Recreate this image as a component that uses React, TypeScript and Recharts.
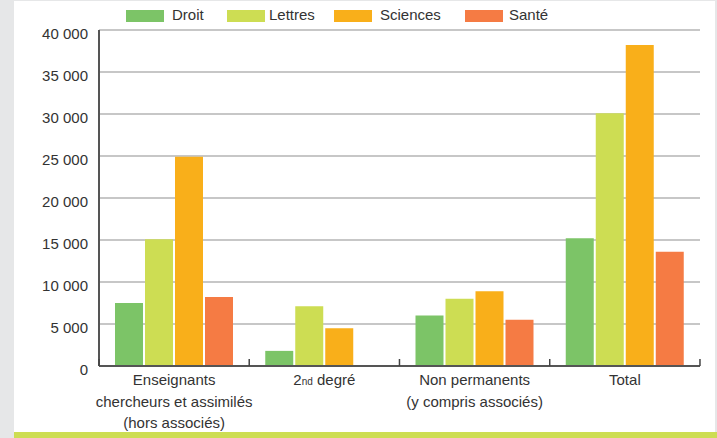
import { Bar, BarChart, CartesianGrid, XAxis, YAxis } from "recharts";

const categories = ["Enseignants chercheurs et assimilés (hors associés)", "2nd degré", "Non permanents (y compris associés)", "Total"];
const categoryLines = [
  ["Enseignants", "chercheurs et assimilés", "(hors associés)"],
  ["2nd degré"],
  ["Non permanents", "(y compris associés)"],
  ["Total"],
];
const droit = [7500, 1800, 6000, 15200];
const lettres = [15100, 7100, 8000, 30100];
const sciences = [24900, 4500, 8900, 38200];
const sante = [8200, null, 5500, 13600];
const yTicks = [0, 5000, 10000, 15000, 20000, 25000, 30000, 35000, 40000];

const series = [
  { key: "droit", name: "Droit", color: "#7cc467" },
  { key: "lettres", name: "Lettres", color: "#cddd53" },
  { key: "sciences", name: "Sciences", color: "#f9af1a" },
  { key: "sante", name: "Santé", color: "#f57b44" },
];

const data = categories.map((c, i) => ({
  name: c,
  lines: categoryLines[i],
  droit: droit[i],
  lettres: lettres[i],
  sciences: sciences[i],
  sante: sante[i],
}));

const FONT = "'Liberation Sans', Arial, sans-serif";

function fmt(v: number) {
  if (v === 0) return "0";
  return `${Math.floor(v / 1000)} 000`;
}

function YTick({ x, y, payload }: any) {
  return (
    <text x={x} y={y} dy={9} textAnchor="end" fill="#333" fontSize={15} fontFamily={FONT}>
      {fmt(payload.value)}
    </text>
  );
}

function XTick({ x, y, payload, index }: any) {
  const lines: string[] = categoryLines[index] || [payload.value];
  const half = 75.1;
  return (
    <g>
      {index === 0 && <line x1={x - half} x2={x - half} y1={y} y2={y - 7} stroke="#444" strokeWidth={1.5} />}
      <line x1={x + half} x2={x + half} y1={y} y2={y - 7} stroke="#444" strokeWidth={1.5} />
      {lines.map((l, i) => (
        <text key={i} x={x} y={y + 19 + i * 21.5} textAnchor="middle" fill="#333" fontSize={15} fontFamily={FONT}>
          {l === "2nd degré" ? (
            <>
              2<tspan fontSize={10}>nd</tspan> degré
            </>
          ) : (
            l
          )}
        </text>
      ))}
    </g>
  );
}

const legendPos = [
  { sw: 126, tx: 172 },
  { sw: 227, tx: 269 },
  { sw: 334, tx: 380 },
  { sw: 465, tx: 509 },
];

export default function App() {
  return (
    <div style={{ position: "absolute", left: 0, top: 0, width: 717, height: 438, background: "#fff", overflow: "hidden" }}>
      <BarChart
        width={717}
        height={438}
        data={data}
        margin={{ top: 30, right: 17, left: 14, bottom: 6 }}
        barCategoryGap={16}
        barGap={2}
      >
        <CartesianGrid vertical={false} stroke="#b5b5b5" strokeWidth={1.5} />
        <XAxis
          dataKey="name"
          interval={0}
          height={66}
          tickLine={false}
          tickSize={0}
          tickMargin={0}
          axisLine={{ stroke: "#555", strokeWidth: 2 }}
          tick={<XTick />}
        />
        <YAxis
          width={85}
          domain={[0, 40000]}
          ticks={yTicks}
          tickLine={false}
          tickSize={6}
          tickMargin={5}
          axisLine={{ stroke: "#555", strokeWidth: 2 }}
          tick={<YTick />}
        />
        {series.map((s) => (
          <Bar key={s.key} dataKey={s.key} name={s.name} fill={s.color} isAnimationActive={false} />
        ))}
      </BarChart>
      {series.map((s, i) => (
        <div key={s.key}>
          <div style={{ position: "absolute", left: legendPos[i].sw, top: 10, width: 38, height: 12, background: s.color }} />
          <div
            style={{ position: "absolute", left: legendPos[i].tx, top: 6, fontFamily: FONT, fontSize: 15, color: "#333", lineHeight: "18px" }}
          >
            {s.name}
          </div>
        </div>
      ))}
      <div style={{ position: "absolute", left: 0, top: 0, width: 14, height: 438, background: "#e6e7e8" }} />
      <div style={{ position: "absolute", left: 14, top: 0, width: 703, height: 1, background: "#e6e7e8" }} />
      <div style={{ position: "absolute", left: 715, top: 0, width: 2, height: 438, background: "#e6e7e8" }} />
      <div style={{ position: "absolute", left: 14, top: 432, width: 703, height: 6, background: "#cddd53" }} />
    </div>
  );
}
